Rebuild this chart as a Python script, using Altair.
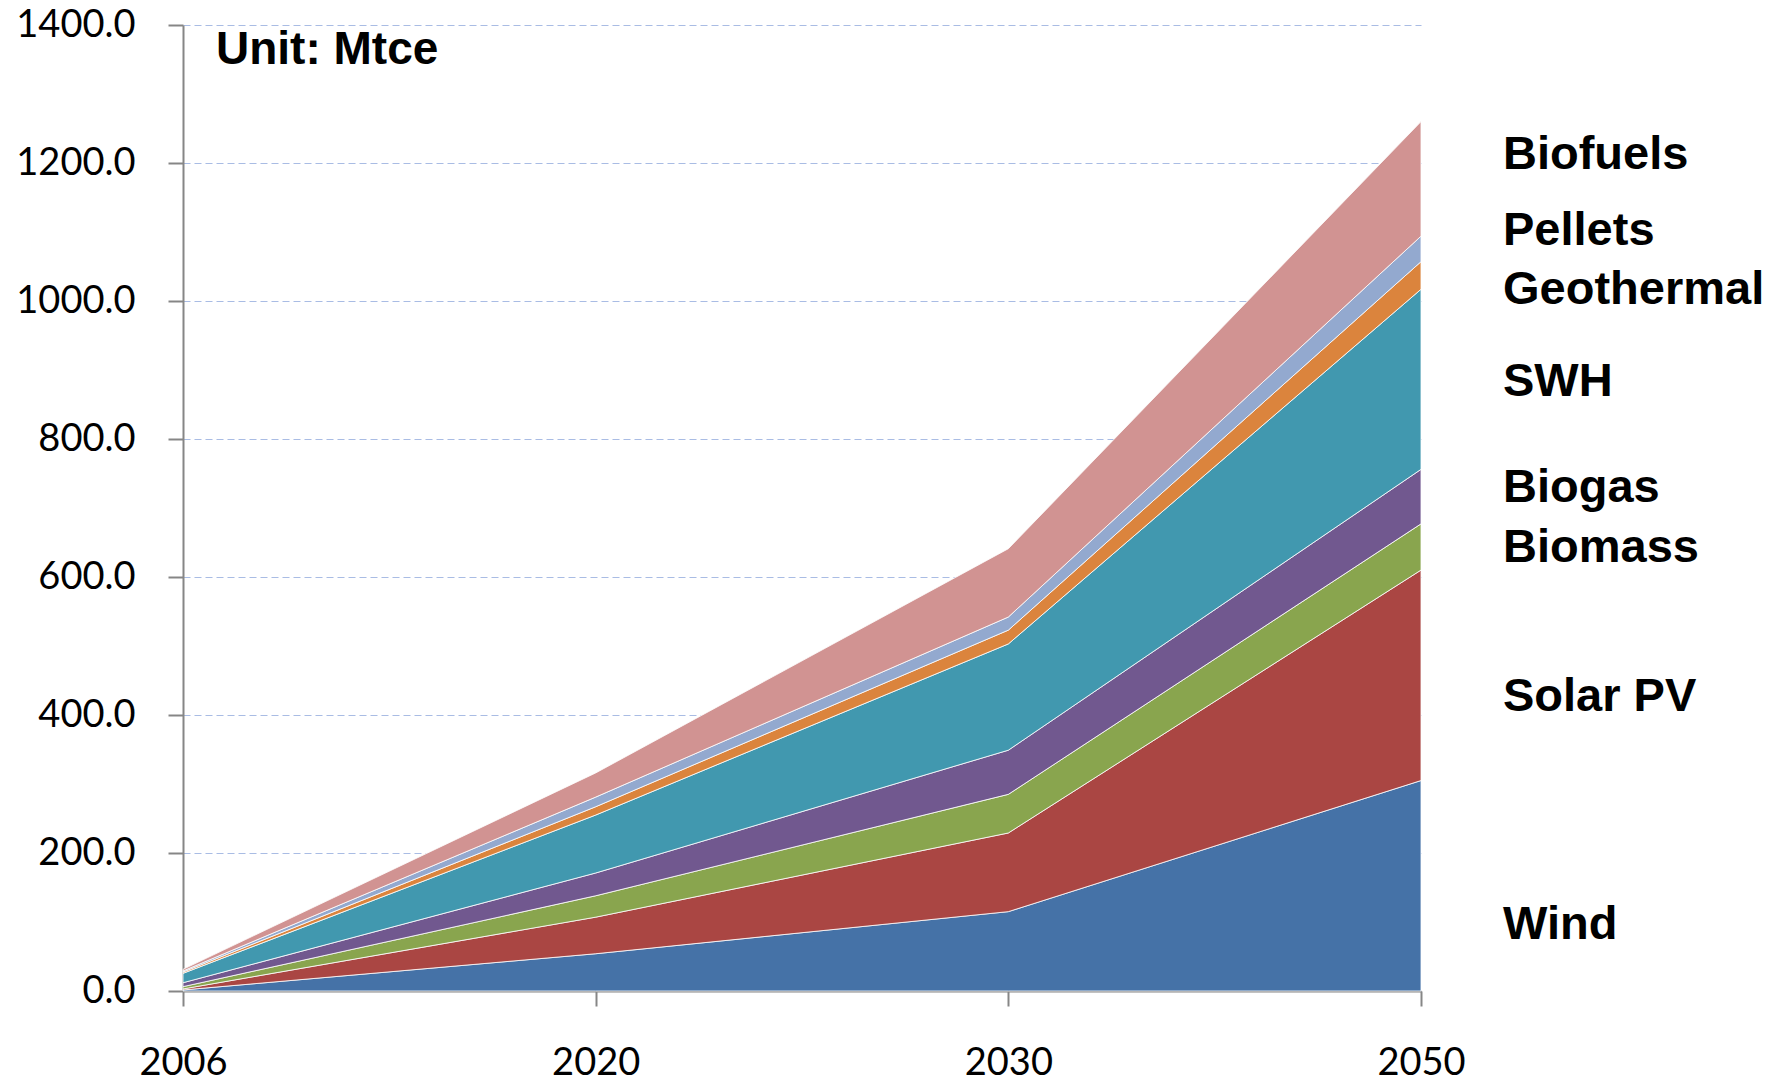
import altair as alt
import pandas as pd

years = ["2006", "2020", "2030", "2050"]
series = ["Wind", "Solar PV", "Biomass", "Biogas", "SWH", "Geothermal", "Pellets", "Biofuels"]
colors = ["#4572A7", "#AA4643", "#89A54E", "#71588F", "#4198AF", "#DB843D", "#93A9CF", "#D19392"]

wind = [1.5, 54, 115, 305]
solar_pv = [1.5, 53, 114, 305]
biomass = [3.3, 31, 56, 67]
biogas = [5.7, 33, 64, 79]
swh = [13.6, 84, 154, 261]
geothermal = [1.9, 12, 20, 40]
pellets = [1.5, 14, 19, 37]
biofuels = [2.4, 35, 99, 166]

values = [wind, solar_pv, biomass, biogas, swh, geothermal, pellets, biofuels]

# label positions along the right side, in Mtce
label_y = [95, 426, 642, 729, 882, 1016, 1101, 1212]

rows = []
for i, (name, vals) in enumerate(zip(series, values)):
    for yr, v in zip(years, vals):
        rows.append({"year": yr, "source": name, "value": v, "order": i})
df = pd.DataFrame(rows)
labels_df = pd.DataFrame({"source": series, "ly": label_y})

W, H = 1238, 966
axis_font = "Lato"

x_enc = alt.X("year:O", scale=alt.Scale(type="point", padding=0, domain=years),
              axis=alt.Axis(title=None, labelAngle=0, labelFont=axis_font, labelFontSize=38,
                            labelColor="#000000", labelPadding=38, tickSize=15, tickWidth=2,
                            tickColor="#868686", domainColor="#868686", domainWidth=2,
                            grid=False))

area = alt.Chart(df).mark_area(stroke="white", strokeWidth=1, strokeOpacity=0.8).encode(
    x=x_enc,
    y=alt.Y("value:Q", stack="zero",
            scale=alt.Scale(domain=[0, 1400], nice=False),
            axis=alt.Axis(title=None, values=[0, 200, 400, 600, 800, 1000, 1200, 1400],
                          format=".1f", labelFont=axis_font, labelFontSize=38,
                          labelColor="#000000", labelPadding=33, tickSize=15, tickWidth=2,
                          tickColor="#868686", domainColor="#868686", domainWidth=2,
                          grid=True, gridColor="#A9BCE4", gridDash=[7, 4], gridWidth=1.2)),
    color=alt.Color("source:N", scale=alt.Scale(domain=series, range=colors), legend=None),
    order=alt.Order("order:Q", sort="ascending"),
)

labels = alt.Chart(labels_df).mark_text(
    align="left", baseline="middle", font="Liberation Sans", fontWeight="bold",
    fontSize=47, color="#000000", dx=82
).encode(
    x=alt.value(W),
    y=alt.Y("ly:Q", scale=alt.Scale(domain=[0, 1400], nice=False)),
    text="source:N",
)

unit_df = pd.DataFrame({"t": ["Unit: Mtce"]})
unit = alt.Chart(unit_df).mark_text(
    align="left", baseline="middle", font="Liberation Sans", fontWeight="bold",
    fontSize=46, color="#000000"
).encode(x=alt.value(33), y=alt.value(25), text="t:N")

chart = alt.layer(area, labels, unit).properties(
    width=W, height=H,
    background="white",
    padding={"left": 183, "top": 25, "right": 362, "bottom": 94},
    autosize=alt.AutoSizeParams(type="none"),
).configure_view(strokeWidth=0, stroke="transparent")

chart.save("out.html", embed_options={"renderer": "svg", "actions": False})
